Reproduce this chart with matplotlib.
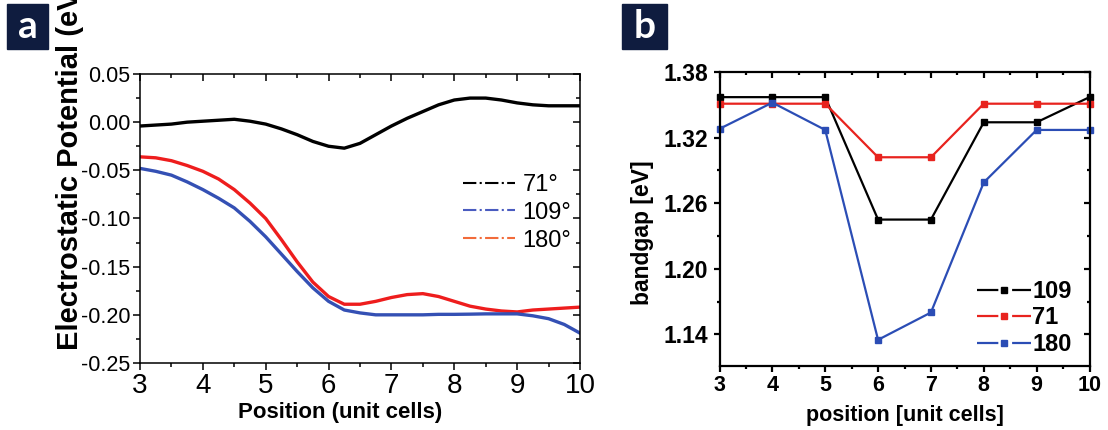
import numpy as np
import matplotlib
matplotlib.use("Agg")
import matplotlib.pyplot as plt
from matplotlib.lines import Line2D
from matplotlib.patches import Rectangle
from matplotlib.ticker import MultipleLocator, FormatStrFormatter

plt.rcParams['font.family'] = ['Liberation Sans', 'DejaVu Sans']
plt.rcParams['axes.unicode_minus'] = False

# panel a: electrostatic potential along the wall
pos_a = [3.0, 3.25, 3.5, 3.75, 4.0, 4.25, 4.5, 4.75, 5.0, 5.25, 5.5, 5.75,
         6.0, 6.25, 6.5, 6.75, 7.0, 7.25, 7.5, 7.75, 8.0, 8.25, 8.5, 8.75,
         9.0, 9.25, 9.5, 9.75, 10.0]
pot_71 = [-0.004, -0.003, -0.002, 0.000, 0.001, 0.002, 0.003, 0.001, -0.002,
          -0.007, -0.013, -0.020, -0.025, -0.027, -0.022, -0.013, -0.004,
          0.004, 0.011, 0.018, 0.023, 0.025, 0.025, 0.023, 0.020, 0.018,
          0.017, 0.017, 0.017]
pot_109 = [-0.048, -0.051, -0.055, -0.062, -0.070, -0.079, -0.089, -0.103,
           -0.119, -0.137, -0.155, -0.172, -0.186, -0.195, -0.198, -0.200,
           -0.200, -0.200, -0.200, -0.1995, -0.1995, -0.1993, -0.199, -0.199,
           -0.199, -0.201, -0.204, -0.210, -0.219]
pot_180 = [-0.036, -0.037, -0.040, -0.045, -0.051, -0.059, -0.070, -0.084,
           -0.100, -0.122, -0.145, -0.166, -0.181, -0.189, -0.189, -0.186,
           -0.182, -0.179, -0.178, -0.181, -0.186, -0.191, -0.194, -0.196,
           -0.197, -0.195, -0.194, -0.193, -0.192]
legend_a = ['71°', '109°', '180°']

# panel b: bandgap per unit cell
pos_b = [3, 4, 5, 6, 7, 8, 9, 10]
gap_109 = [1.357, 1.357, 1.357, 1.245, 1.245, 1.334, 1.334, 1.357]
gap_71 = [1.351, 1.351, 1.351, 1.302, 1.302, 1.351, 1.351, 1.351]
gap_180 = [1.328, 1.352, 1.327, 1.135, 1.160, 1.279, 1.327, 1.327]
legend_b = ['109', '71', '180']

W, H = 1108, 430
fig = plt.figure(figsize=(W / 100, H / 100), dpi=100)
fig.patch.set_facecolor('white')


def px_axes(l, r, t, b):
    return fig.add_axes([l / W, (H - b) / H, (r - l) / W, (b - t) / H])


def style_ticks(ax, lw, size):
    for side in ['left', 'right', 'top', 'bottom']:
        ax.spines[side].set_linewidth(lw)
    ax.tick_params(which='both', top=True, right=True, width=lw, direction='out')
    ax.tick_params(which='major', length=size)
    ax.tick_params(which='minor', length=size * 0.6)
    # mirrored ticks point inwards
    for t in ax.xaxis.get_major_ticks() + ax.xaxis.get_minor_ticks():
        t.tick2line.set_marker(3)
    for t in ax.yaxis.get_major_ticks() + ax.yaxis.get_minor_ticks():
        t.tick2line.set_marker(0)


# ---------------- panel a ----------------
ax1 = px_axes(140, 580, 74, 363)
ax1.plot(pos_a, pot_71, color='black', lw=2.4)
ax1.plot(pos_a, pot_180, color='#ee1d1d', lw=2.4)
ax1.plot(pos_a, pot_109, color='#3450b4', lw=2.4)
ax1.set_xlim(3, 10)
ax1.set_ylim(-0.25, 0.05)
ax1.xaxis.set_major_locator(MultipleLocator(1))
ax1.xaxis.set_minor_locator(MultipleLocator(0.5))
ax1.yaxis.set_major_locator(MultipleLocator(0.05))
ax1.yaxis.set_minor_locator(MultipleLocator(0.025))
ax1.yaxis.set_major_formatter(FormatStrFormatter('%.2f'))
ax1.tick_params(axis='x', labelsize=20, pad=2)
ax1.tick_params(axis='y', labelsize=15.5, pad=2)
style_ticks(ax1, 1.1, 5)
ax1.set_xlabel('Position (unit cells)', fontsize=16, fontweight='bold')
ax1.xaxis.set_label_coords(0.455, -0.135)
ax1.set_ylabel('Electrostatic Potential (eV)', fontsize=21, fontweight='bold', ha='left')
ax1.yaxis.set_label_coords(-0.127, 0.045)

h_a = [Line2D([], [], color='black', lw=1.5, ls='-.'),
       Line2D([], [], color='#4a5cc0', lw=1.5, ls='-.'),
       Line2D([], [], color='#f26b3a', lw=1.5, ls='-.')]
ax1.legend(h_a, legend_a, loc='center left', bbox_to_anchor=(0.735, 0.52),
           frameon=False, fontsize=17, handlelength=2.2, handletextpad=0.3,
           labelspacing=0.25, borderpad=0, borderaxespad=0)

# ---------------- panel b ----------------
ax2 = px_axes(719.5, 1089.5, 72, 365.5)
c_109, c_71, c_180 = 'black', '#e8231e', '#2b4db5'
ax2.plot(pos_b, gap_109, color=c_109, lw=1.6, marker='s', ms=4.5, clip_on=False)
ax2.plot(pos_b, gap_71, color=c_71, lw=1.6, marker='s', ms=4.5, clip_on=False)
ax2.plot(pos_b, gap_180, color=c_180, lw=1.6, marker='s', ms=4.5, clip_on=False)
ax2.set_xlim(3, 10)
ax2.set_ylim(1.1115, 1.38)
ax2.xaxis.set_major_locator(MultipleLocator(1))
ax2.xaxis.set_minor_locator(MultipleLocator(0.5))
ax2.yaxis.set_minor_locator(MultipleLocator(0.03))
ax2.set_yticks([1.14, 1.20, 1.26, 1.32, 1.38])
ax2.yaxis.set_major_formatter(FormatStrFormatter('%.2f'))
ax2.tick_params(axis='x', labelsize=15.5, pad=3)
ax2.tick_params(axis='y', labelsize=16.5, pad=4)
for lab in ax2.get_xticklabels() + ax2.get_yticklabels():
    lab.set_fontweight('bold')
style_ticks(ax2, 1.6, 4)
ax2.set_xlabel('position [unit cells]', fontsize=15.5, fontweight='bold')
ax2.xaxis.set_label_coords(0.5, -0.135)
ax2.set_ylabel('bandgap [eV]', fontsize=16.5, fontweight='bold')
ax2.yaxis.set_label_coords(-0.177, 0.4515)

h_b = [Line2D([], [], color=c, lw=1.6, marker='s', ms=4.5, dashes=(9.6, 6.2))
       for c in (c_109, c_71, c_180)]
ax2.legend(h_b, legend_b, loc='center left', bbox_to_anchor=(0.695, 0.162),
           frameon=False, prop={'size': 17, 'weight': 'bold'}, handlelength=2.3,
           handletextpad=0.05, labelspacing=0.15, borderpad=0, borderaxespad=0)

# panel tags
for tag, x0, x1 in (('a', 7, 48), ('b', 622, 667)):
    fig.patches.append(Rectangle((x0 / W, (H - 49) / H), (x1 - x0) / W, 45 / H,
                                 transform=fig.transFigure, color='#0f1c3f'))
    fig.text((x0 + x1) / 2 / W, (H - 27) / H, tag, color='white', fontsize=28,
             fontweight='bold', family=['Lato', 'DejaVu Sans'], ha='center', va='center')

fig.savefig('out.png', dpi=100)
